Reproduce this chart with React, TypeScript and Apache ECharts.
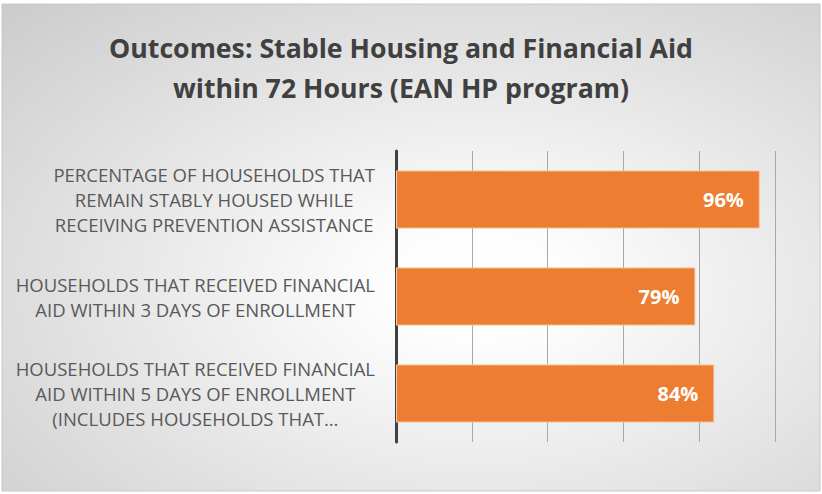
import React, { useEffect, useRef } from "react";
import * as echarts from "echarts";

const titleLines = [
  "Outcomes: Stable Housing and Financial Aid",
  "within 72 Hours (EAN HP program)",
];

const categories = [
  "PERCENTAGE OF HOUSEHOLDS THAT\nREMAIN STABLY HOUSED WHILE\nRECEIVING PREVENTION ASSISTANCE",
  "HOUSEHOLDS THAT RECEIVED FINANCIAL\nAID WITHIN 3 DAYS OF ENROLLMENT",
  "HOUSEHOLDS THAT RECEIVED FINANCIAL\nAID WITHIN 5 DAYS OF ENROLLMENT\n(INCLUDES HOUSEHOLDS THAT…",
];

const values = [96, 79, 84];

const xMin = 0;
const xMax = 100;
const xInterval = 20;

export default function App() {
  const ref = useRef<HTMLDivElement>(null);

  useEffect(() => {
    document.body.style.margin = "0";
    if (!ref.current) return;
    const chart = echarts.init(ref.current, null, { renderer: "svg" });
    const W = 822;
    const H = 494;
    const labelFont = {
      fontFamily: "Open Sans",
      fontSize: 18.5,
      lineHeight: 25,
      color: "#595959",
    };
    chart.setOption({
      animation: false,
      backgroundColor: "#ffffff",
      graphic: [
        {
          type: "rect",
          z: -10,
          silent: true,
          shape: { x: 2, y: 4, width: W - 4, height: H - 7 },
          style: {
            fill: new echarts.graphic.RadialGradient(0.58, 0.58, 0.95, [
              { offset: 0, color: "#ffffff" },
              { offset: 0.12, color: "#fdfdfd" },
              { offset: 1, color: "#c2c2c2" },
            ]),
            stroke: "#c8c8c8",
            lineWidth: 1,
          },
        },
        {
          type: "text",
          z: 10,
          silent: true,
          x: 401,
          y: 27,
          style: {
            text: titleLines.join("\n"),
            align: "center",
            verticalAlign: "top",
            fontFamily: "Open Sans",
            fontWeight: "bold",
            fontSize: 26.7,
            lineHeight: 40,
            fill: "#404040",
          },
        },
      ],
      grid: {
        left: 396,
        right: 47,
        top: 151,
        bottom: 52,
        containLabel: false,
      },
      xAxis: {
        type: "value",
        min: xMin,
        max: xMax,
        interval: xInterval,
        axisLabel: { show: false },
        axisLine: { show: false },
        axisTick: { show: false },
        splitLine: { show: true, lineStyle: { color: "#a8a8a8", width: 1 } },
      },
      yAxis: {
        type: "category",
        inverse: true,
        data: categories,
        axisLine: { show: true, lineStyle: { color: "#404040", width: 3 } },
        axisTick: { show: false },
        axisLabel: {
          align: "right",
          margin: 21,
          ...labelFont,
          formatter: (v: string) =>
            v
              .split("\n")
              .map((l) => `{c|${l}}`)
              .join("\n"),
          rich: {
            c: { align: "center", ...labelFont },
          },
        },
      },
      series: [
        {
          type: "bar",
          data: values,
          barWidth: "60%",
          itemStyle: {
            color: "#ED7D31",
            borderColor: "#f6c9ab",
            borderWidth: 1,
          },
          label: {
            show: true,
            position: "insideRight",
            distance: 16,
            formatter: (p: any) => `${p.value}%`,
            fontFamily: "Open Sans",
            fontWeight: "bold",
            fontSize: 20,
            color: "#ffffff",
          },
        },
      ],
    });
    return () => chart.dispose();
  }, []);

  return <div ref={ref} style={{ width: 822, height: 494 }} />;
}
